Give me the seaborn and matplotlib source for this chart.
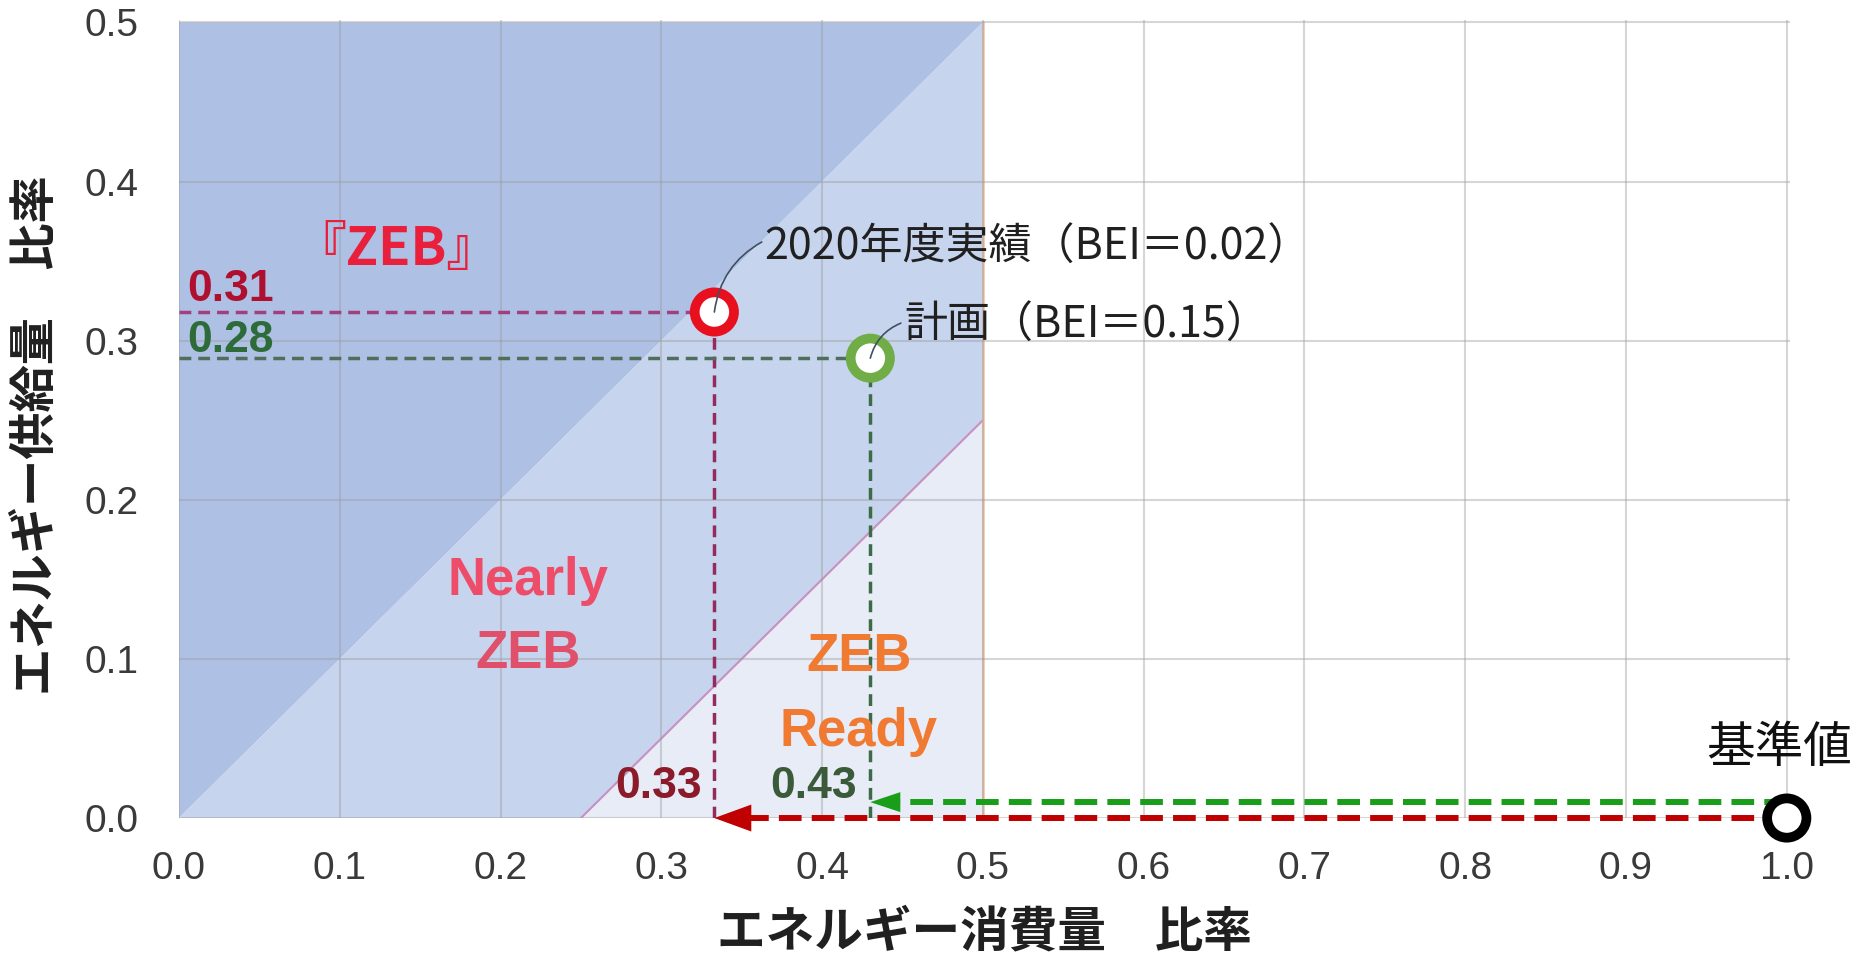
import matplotlib
matplotlib.use("Agg")
import matplotlib.pyplot as plt
import seaborn as sns
import pandas as pd

# ゾーン境界 (エネルギー消費量比率 x / 供給量比率 y)
zeb_x = [0.0, 0.5, 0.0]
zeb_y = [0.0, 0.5, 0.5]
nearly_x = [0.0, 0.25, 0.5, 0.5]
nearly_y = [0.0, 0.0, 0.25, 0.5]
ready_x = [0.25, 0.5, 0.5]
ready_y = [0.0, 0.0, 0.25]
ready_line_x = [0.25, 0.5]
ready_line_y = [0.0, 0.25]

# 実績・計画・基準値
point_names = ["2020年度実績（BEI＝0.02）", "計画（BEI＝0.15）", "基準値"]
consumption = [0.333, 0.430, 1.0]
supply = [0.318, 0.289, 0.0]
supply_labels = ["0.31", "0.28"]
consumption_labels = ["0.33", "0.43"]

x_ticks = [0.0, 0.1, 0.2, 0.3, 0.4, 0.5, 0.6, 0.7, 0.8, 0.9, 1.0]
y_ticks = [0.0, 0.1, 0.2, 0.3, 0.4, 0.5]

df = pd.DataFrame({"name": point_names, "x": consumption, "y": supply})

sns.set_theme(style="white")
plt.rcParams["font.family"] = ["Liberation Sans", "Noto Sans CJK JP", "DejaVu Sans"]
JP = ["Noto Sans CJK JP", "DejaVu Sans"]

fig = plt.figure(figsize=(18.64, 9.57), dpi=100)
ax = fig.add_axes([0.096, 0.1452, 0.8643, 0.8339])

# ゾーン塗り
ax.fill(zeb_x, zeb_y, color="#aec0e4", lw=0, zorder=1)
ax.fill(nearly_x, nearly_y, color="#c6d4ee", lw=0, zorder=1)
ax.fill(ready_x, ready_y, color="#e8ecf7", lw=0, zorder=1)
ax.plot(ready_line_x, ready_line_y, color="#c890c0", lw=1.5, zorder=1.5)
ax.plot([0.5, 0.5], [0.0, 0.5], color="#f0c0a0", lw=1.8, zorder=1.5)

ax.set_xlim(0, 1.002)
ax.set_ylim(0, 0.5015)
ax.set_xticks(x_ticks)
ax.set_yticks(y_ticks)
ax.set_xticklabels([f"{v:.1f}" for v in x_ticks])
ax.set_yticklabels([f"{v:.1f}" for v in y_ticks])
ax.tick_params(axis="x", length=0, pad=24, labelsize=28, labelcolor="#3a3a3a")
ax.tick_params(axis="y", length=0, pad=29, labelsize=28, labelcolor="#3a3a3a")
ax.set_axisbelow(False)
ax.grid(True, color="#9a9a9a", alpha=0.4, lw=1.5)
for s in ax.spines.values():
    s.set_visible(False)

# 補助線 (点 -> 軸)
guide_h = ["#a0407f", "#4f6f5a"]
guide_v = ["#952a5e", "#3d6b48"]
for i in range(2):
    ax.plot([0, consumption[i]], [supply[i], supply[i]], color=guide_h[i], lw=2.5,
            dashes=(3.4, 2), zorder=3)
    ax.plot([consumption[i], consumption[i]], [0, supply[i]], color=guide_v[i], lw=2.5,
            dashes=(3.4, 2), zorder=3)

# 基準値からの矢印
arrow_colors = ["#c00000", "#1a9e1a"]
arrow_y = [0.0, 0.010]
head_len = [2.66, 2.16]
head_w = [0.97, 0.72]
for i in [1, 0]:
    tip = consumption[i]
    ax.plot([1.0, tip + 0.012], [arrow_y[i], arrow_y[i]], color=arrow_colors[i], lw=4.3,
            dashes=(3.8, 1.7), zorder=3.5, clip_on=False)
    ax.annotate("", xy=(tip, arrow_y[i]), xytext=(tip + 0.03, arrow_y[i]),
                arrowprops=dict(arrowstyle=f"-|>,head_length={head_len[i]},head_width={head_w[i]}",
                                color=arrow_colors[i], lw=0, shrinkA=0, shrinkB=0,
                                mutation_scale=10), zorder=3.6, annotation_clip=False)

# 点
sns.scatterplot(data=df, x="x", y="y", ax=ax, s=800, legend=False, zorder=5)
pts = ax.collections[-1]
pts.set_facecolor("white")
pts.set_edgecolor(["#e8101e", "#70ad47", "#000000"])
pts.set_linewidth(7)
pts.set_clip_on(False)

# 数値ラベル
ax.text(0.005, 0.332, supply_labels[0], ha="left", va="center", fontsize=32,
        weight="bold", color="#b01030", zorder=4)
ax.text(0.005, 0.300, supply_labels[1], ha="left", va="center", fontsize=32,
        weight="bold", color="#2e6b3a", zorder=4)
ax.text(0.298, 0.020, consumption_labels[0], ha="center", va="center", fontsize=32,
        weight="bold", color="#8b1a2a", zorder=4)
ax.text(0.395, 0.020, consumption_labels[1], ha="center", va="center", fontsize=32,
        weight="bold", color="#3a5a3a", zorder=4)

# ゾーン名
ax.text(0.135, 0.357, "『ZEB』", family=JP, ha="center", va="center", fontsize=38,
        weight="bold", color="#e8203c", zorder=4)
ax.text(0.217, 0.149, "Nearly", ha="center", va="center", fontsize=38,
        weight="bold", color="#ee4d6a", zorder=4)
ax.text(0.217, 0.103, "ZEB", ha="center", va="center", fontsize=38,
        weight="bold", color="#e0506a", zorder=4)
ax.text(0.423, 0.101, "ZEB", ha="center", va="center", fontsize=38,
        weight="bold", color="#f07a32", zorder=4)
ax.text(0.423, 0.054, "Ready", ha="center", va="center", fontsize=38,
        weight="bold", color="#f07a32", zorder=4)

# 引き出し線付き注記
leader_ends = [(0.3625, 0.362), (0.449, 0.311)]
text_pos = [(0.364, 0.358), (0.451, 0.309)]
for i in range(2):
    ax.annotate("", xy=leader_ends[i], xytext=(consumption[i], supply[i]),
                arrowprops=dict(arrowstyle="-", color="#405060", lw=1.2,
                                connectionstyle="arc3,rad=-0.25", shrinkA=0, shrinkB=0),
                zorder=6)
    ax.text(text_pos[i][0], text_pos[i][1], point_names[i], family=JP, fontsize=31,
            color="#202020", ha="left", va="center", zorder=4)
ax.text(0.9955, 0.0437, point_names[2], family=JP, fontsize=35, color="#101010",
        ha="center", va="center", zorder=4, clip_on=False)

ax.set_xlabel("エネルギー消費量　比率", family=JP, fontsize=35, weight="bold",
              color="#202020", va="center")
ax.set_ylabel("エネルギー供給量　比率", family=JP, fontsize=34, weight="bold",
              color="#202020", va="center")
ax.xaxis.set_label_coords(0.5, -0.143)
ax.yaxis.set_label_coords(-0.0888, 0.48)

fig.savefig("out.png", dpi=100)
